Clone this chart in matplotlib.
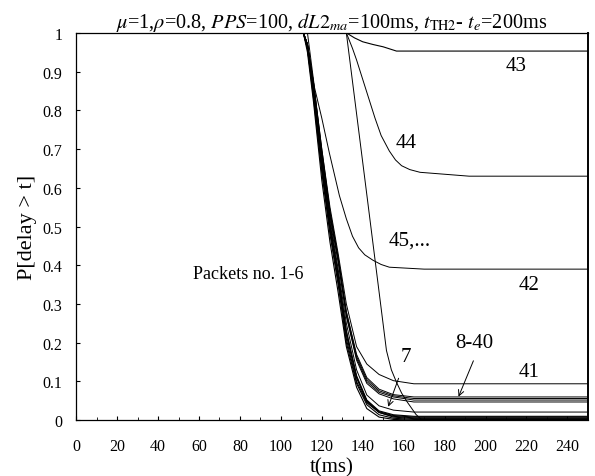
import matplotlib
matplotlib.use("Agg")
import matplotlib.pyplot as plt
from matplotlib.ticker import MultipleLocator

plt.rcParams['font.family'] = ['Liberation Serif', 'DejaVu Serif']
plt.rcParams['mathtext.fontset'] = 'stix'

# packets 1-6 (main bundle, tails to ~0)
t_16 = [0, 111, 113, 116, 120, 124, 128, 132, 137, 142, 148, 155, 165, 250]
p_1 = [1, 1, 0.95, 0.82, 0.62, 0.46, 0.33, 0.19, 0.085, 0.03, 0.008, 0.002, 0, 0]
p_2 = [1, 1, 0.96, 0.83, 0.64, 0.48, 0.35, 0.20, 0.095, 0.04, 0.014, 0.005, 0.002, 0.002]
p_3 = [1, 1, 0.96, 0.84, 0.65, 0.49, 0.36, 0.21, 0.10, 0.045, 0.02, 0.008, 0.004, 0.004]
p_4 = [1, 1, 0.96, 0.84, 0.66, 0.50, 0.37, 0.22, 0.11, 0.05, 0.022, 0.012, 0.008, 0.008]
p_5 = [1, 1, 0.97, 0.85, 0.66, 0.50, 0.37, 0.23, 0.11, 0.048, 0.02, 0.01, 0.006, 0.006]
p_6 = [1, 1, 0.97, 0.85, 0.67, 0.51, 0.38, 0.23, 0.115, 0.052, 0.024, 0.014, 0.01, 0.01]
# packet 7
p_7 = [1, 1, 0.97, 0.86, 0.68, 0.52, 0.39, 0.25, 0.13, 0.065, 0.037, 0.026, 0.021, 0.021]
# packets 8-40
p_8 = [1, 1, 0.97, 0.86, 0.68, 0.53, 0.41, 0.27, 0.155, 0.095, 0.068, 0.055, 0.047, 0.047]
p_20 = [1, 1, 0.97, 0.86, 0.69, 0.53, 0.41, 0.27, 0.16, 0.10, 0.072, 0.06, 0.052, 0.052]
p_30 = [1, 1, 0.97, 0.87, 0.69, 0.54, 0.42, 0.28, 0.165, 0.105, 0.076, 0.063, 0.056, 0.056]
p_40 = [1, 1, 0.97, 0.87, 0.70, 0.54, 0.42, 0.28, 0.17, 0.11, 0.08, 0.066, 0.06, 0.06]
# packet 41
p_41 = [1, 1, 0.97, 0.87, 0.70, 0.55, 0.43, 0.30, 0.19, 0.145, 0.118, 0.102, 0.094, 0.094]

t_42 = [0, 113, 116.4, 120, 123.7, 128.6, 132, 135, 138, 141, 145, 149, 153, 170, 250]
p_42 = [1, 1, 0.86, 0.78, 0.69, 0.58, 0.52, 0.475, 0.445, 0.427, 0.413, 0.402, 0.395, 0.39, 0.39]

t_43 = [0, 132, 136, 140, 145, 150, 156.5, 250]
p_43 = [1, 1, 0.987, 0.977, 0.97, 0.964, 0.953, 0.953]

t_44 = [0, 132, 135, 137, 140, 143, 146, 149, 153, 156, 159, 163, 168, 180, 192, 250]
p_44 = [1, 1, 0.96, 0.93, 0.88, 0.83, 0.78, 0.735, 0.695, 0.672, 0.657, 0.647, 0.64, 0.635, 0.63, 0.63]

t_45 = [0, 132, 142.3, 151.6, 154, 156.5, 159, 162, 166, 169, 250]
p_45 = [1, 1, 0.57, 0.18, 0.13, 0.098, 0.07, 0.045, 0.015, 0, 0]

fig = plt.figure(figsize=(5.95, 4.77), dpi=100)
ax = fig.add_axes([0.128, 0.117, 0.86, 0.812])

for p in [p_1, p_2, p_3, p_4, p_5, p_6]:
    ax.plot(t_16, p, color='black', lw=0.8)
for p in [p_7, p_8, p_20, p_30, p_40, p_41]:
    ax.plot(t_16, p, color='black', lw=0.7)
ax.plot(t_42, p_42, color='black', lw=0.7)
ax.plot(t_43, p_43, color='black', lw=0.8)
ax.plot(t_44, p_44, color='black', lw=0.7)
ax.plot(t_45, p_45, color='black', lw=0.7)

ax.set_xlim(0, 250)
ax.set_ylim(0, 1)
ax.xaxis.set_major_locator(MultipleLocator(20))
ax.xaxis.set_minor_locator(MultipleLocator(10))
ax.set_yticks([0, 0.1, 0.2, 0.3, 0.4, 0.5, 0.6, 0.7, 0.8, 0.9, 1])
ax.set_yticklabels(['0', '0.1', '0.2', '0.3', '0.4', '0.5', '0.6', '0.7', '0.8', '0.9', '1'])
ax.tick_params(axis='x', direction='in', length=3, labelsize=11.5, pad=13)
ax.tick_params(axis='y', direction='in', length=3, labelsize=11.5, pad=10)
ax.tick_params(which='minor', direction='in', length=2)
for s in ax.spines.values():
    s.set_linewidth(0.9)
ax.spines['right'].set_linewidth(1.4)

ax.set_xlabel('t(ms)', fontsize=15)
ax.xaxis.set_label_coords(0.5, -0.095)
ax.set_ylabel('P[delay > t]', fontsize=16)
ax.yaxis.set_label_coords(-0.076, 0.5)
ax.set_title(r'$\mu$=1,$\rho$=0.8, $PPS$=100, $dL2_{ma}$=100ms, $t_{\rm TH2}$- $t_e$=200ms',
             fontsize=14.6, pad=3)

ax.text(215, 0.915, '43', fontsize=15, ha='center', va='center')
ax.text(161, 0.718, '44', fontsize=15, ha='center', va='center')
ax.text(163, 0.465, '45,...', fontsize=15, ha='center', va='center')
ax.text(221.5, 0.35, '42', fontsize=15, ha='center', va='center')
ax.text(84, 0.38, 'Packets no. 1-6', fontsize=13, ha='center', va='center')
ax.text(161, 0.165, '7', fontsize=15, ha='center', va='center')
ax.text(194.6, 0.2, '8-40', fontsize=15, ha='center', va='center')
ax.text(221.5, 0.127, '41', fontsize=15, ha='center', va='center')

arrow = dict(arrowstyle='->', color='black', lw=0.7)
ax.annotate('', xy=(152, 0.028), xytext=(158, 0.115), arrowprops=arrow)
ax.annotate('', xy=(186.3, 0.054), xytext=(194.6, 0.16), arrowprops=arrow)

fig.savefig('out.png', dpi=100)
